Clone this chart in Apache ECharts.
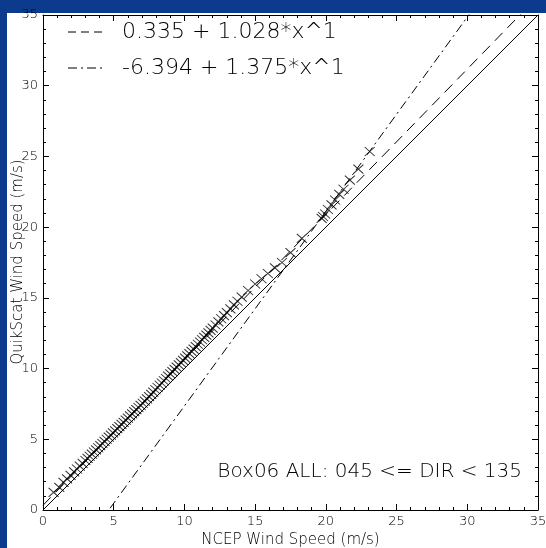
<!DOCTYPE html>
<html>
<head>
<meta charset="utf-8">
<script src="https://cdn.jsdelivr.net/npm/echarts@6/dist/echarts.min.js"></script>
<style>
  html, body { margin: 0; padding: 0; width: 546px; height: 548px; background: #0c3a8c; overflow: hidden; }
  #frame { position: absolute; left: 7px; top: 13px; width: 539px; height: 535px; background: #ffffff; }
  #chart { position: absolute; left: 0; top: 0; width: 546px; height: 548px; }
</style>
</head>
<body>
<div id="frame"></div>
<div id="chart"></div>
<script>
// NCEP vs QuikScat wind speed (m/s), binned pairs
const ncep = [0.75, 1.15, 1.45, 1.7, 1.95, 2.2, 2.4, 2.6, 2.8, 3.0, 3.15, 3.3, 3.45, 3.6, 3.75, 3.9,
  4.05, 4.2, 4.35, 4.5, 4.65, 4.8, 4.95, 5.1, 5.25, 5.4, 5.55, 5.7, 5.85, 6.0, 6.15, 6.3, 6.45, 6.6,
  6.75, 6.9, 7.05, 7.2, 7.35, 7.5, 7.65, 7.8, 7.95, 8.1, 8.25, 8.4, 8.55, 8.7, 8.85, 9.0, 9.15, 9.3,
  9.45, 9.6, 9.75, 9.9, 10.05, 10.2, 10.35, 10.5, 10.65, 10.8, 10.95, 11.1, 11.25, 11.4, 11.55, 11.7,
  11.85, 12.0, 12.2, 12.4, 12.6, 12.8, 13.0, 13.25, 13.5, 13.75, 14.05, 14.5, 15.0, 15.45, 15.9, 16.4,
  16.9, 17.5, 18.3, 19.7, 19.8, 19.95, 20.15, 20.4, 20.65, 20.95, 21.25, 21.7, 22.3, 23.1];
const quikscat = [1.25, 1.6, 1.95, 2.2, 2.45, 2.7, 2.9, 3.1, 3.3, 3.5, 3.65, 3.8, 3.95, 4.1, 4.25, 4.4,
  4.55, 4.7, 4.85, 5.0, 5.15, 5.3, 5.45, 5.6, 5.75, 5.9, 6.05, 6.2, 6.35, 6.5, 6.65, 6.8, 6.95, 7.1,
  7.25, 7.4, 7.55, 7.7, 7.86, 8.02, 8.18, 8.34, 8.5, 8.66, 8.82, 8.98, 9.14, 9.3, 9.46, 9.62, 9.78, 9.94,
  10.1, 10.26, 10.42, 10.58, 10.74, 10.9, 11.06, 11.22, 11.38, 11.55, 11.72, 11.88, 12.04, 12.2, 12.37, 12.53,
  12.7, 12.86, 13.08, 13.3, 13.52, 13.74, 13.96, 14.22, 14.5, 14.76, 15.05, 15.52, 15.98, 16.35, 16.72, 17.12,
  17.5, 18.2, 19.2, 20.62, 20.75, 20.93, 21.25, 21.57, 21.92, 22.32, 22.68, 23.33, 24.1, 25.35];

// Linear fits: y = a + b*x
const fitDashed = { a: 0.335, b: 1.028 };
const fitDashDot = { a: -6.394, b: 1.375 };
const fitLabels = ['0.335 + 1.028*x^1', '-6.394 + 1.375*x^1'];
const axisTicks = [0, 5, 10, 15, 20, 25, 30, 35];
const boxLabel = 'Box06 ALL: 045 <= DIR < 135';
const xTitle = 'NCEP Wind Speed (m/s)';
const yTitle = 'QuikScat Wind Speed (m/s)';

const AX_MIN = axisTicks[0], AX_MAX = axisTicks[axisTicks.length - 1];
function fitSegment(f) {
  // endpoints of the fit line across the axis range (clipped by the grid)
  return [[AX_MIN, f.a + f.b * AX_MIN], [AX_MAX, f.a + f.b * AX_MAX]];
}

const FONT = 'DejaVu Sans';
const chart = echarts.init(document.getElementById('chart'), null, { renderer: 'canvas' });

const baseAxis = {
  min: AX_MIN, max: AX_MAX, interval: 5,
  axisLine: { show: true, onZero: false, lineStyle: { color: '#000', width: 1 } },
  axisTick: { show: true, inside: true, length: 6, lineStyle: { color: '#000' } },
  minorTick: { show: true, splitNumber: 5, length: 3, lineStyle: { color: '#000' } },
  splitLine: { show: false },
  axisLabel: { show: true, color: '#000', fontFamily: FONT, fontSize: 13, fontWeight: 200, hideOverlap: false }
};

const option = {
  animation: false,
  backgroundColor: 'transparent',
  grid: { left: 43, right: 8, top: 15, bottom: 38, containLabel: false, outerBoundsMode: 'none' },
  xAxis: [
    Object.assign({}, baseAxis, {
      type: 'value', position: 'bottom',
      name: xTitle, nameLocation: 'middle', nameGap: 17,
      nameTextStyle: { color: '#000', fontFamily: FONT, fontSize: 15, fontWeight: 200 },
      axisLabel: Object.assign({}, baseAxis.axisLabel, { margin: 5 })
    }),
    Object.assign({}, baseAxis, { type: 'value', position: 'top', axisLabel: { show: false } })
  ],
  yAxis: [
    Object.assign({}, baseAxis, {
      type: 'value', position: 'left',
      axisLabel: Object.assign({}, baseAxis.axisLabel, { margin: 5 })
    }),
    Object.assign({}, baseAxis, { type: 'value', position: 'right', axisLabel: { show: false } })
  ],
  series: [
    {
      type: 'line', name: 'one-to-one',
      data: [[AX_MIN, AX_MIN], [AX_MAX, AX_MAX]],
      symbol: 'none', clip: true,
      lineStyle: { color: '#000', width: 1 }
    },
    {
      type: 'line', name: fitLabels[0],
      data: fitSegment(fitDashed),
      symbol: 'none', clip: true,
      lineStyle: { color: '#000', width: 1, type: [11, 7] }
    },
    {
      type: 'line', name: fitLabels[1],
      data: fitSegment(fitDashDot),
      symbol: 'none', clip: true,
      lineStyle: { color: '#000', width: 1, type: [9, 4, 2, 4] }
    },
    {
      type: 'scatter', name: 'pairs',
      data: ncep.map((x, i) => [x, quikscat[i]]),
      symbol: 'path://M0,0L10,10M10,0L0,10',
      symbolSize: [10, 9],
      itemStyle: { color: 'rgba(0,0,0,0)', borderColor: '#000', borderWidth: 1 }
    }
  ],
  graphic: [
    { type: 'text', x: 18, y: 262, rotation: Math.PI / 2,
      style: { text: yTitle, fill: '#000', font: '200 15px "' + FONT + '"',
               align: 'center', verticalAlign: 'middle' } },
    { type: 'line', shape: { x1: 68, y1: 32, x2: 103, y2: 32 },
      style: { stroke: '#000', lineWidth: 1, lineDash: [8, 5] } },
    { type: 'text', left: 122, top: 21,
      style: { text: fitLabels[0], fill: '#000', font: '200 22px "' + FONT + '"' } },
    { type: 'line', shape: { x1: 68, y1: 68, x2: 103, y2: 68 },
      style: { stroke: '#000', lineWidth: 1, lineDash: [9, 4, 2, 4] } },
    { type: 'text', left: 122, top: 57,
      style: { text: fitLabels[1], fill: '#000', font: '200 22px "' + FONT + '"' } },
    { type: 'text', right: 24, top: 462,
      style: { text: boxLabel, fill: '#000', font: '200 20px "' + FONT + '"' } }
  ]
};
chart.setOption(option);
</script>
</body>
</html>
